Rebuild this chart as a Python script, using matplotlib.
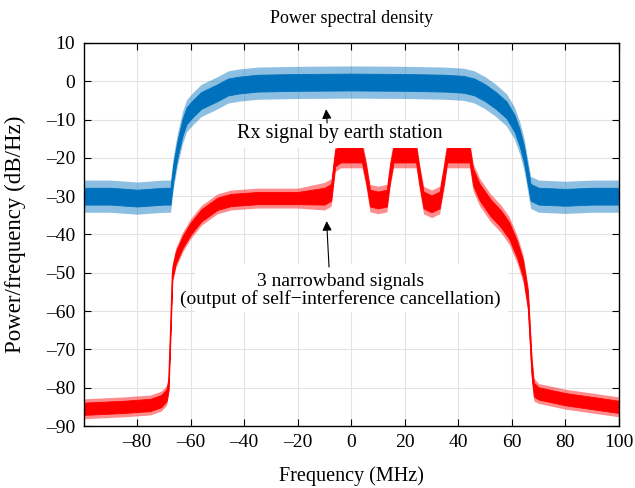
import matplotlib
matplotlib.use("Agg")
import matplotlib.pyplot as plt
from matplotlib.patches import Rectangle
from matplotlib.ticker import FuncFormatter

plt.rcParams['font.family'] = ['Liberation Serif', 'DejaVu Serif']

# ---- data ----
# Rx signal by earth station (blue): frequency (MHz), mean level (dB/Hz), core noise half-width, spike half-width
blue_f = [-100, -90, -80, -70, -67.5, -66.5, -65, -63, -61.5, -59, -56, -53, -50, -46, -42, -35,
          -20, 0, 20, 35, 42, 46, 50, 54, 58, 61, 63, 64.5, 66, 67, 70, 80, 90, 100]
blue_db = [-30, -30, -30.5, -30, -30, -24, -18, -12, -9, -7, -5, -4, -3, -1.5, -1, -0.5,
           -0.3, -0.2, -0.3, -0.5, -0.8, -1.5, -3, -5, -7.5, -11, -15, -19, -25, -29, -30, -30.3, -30, -30]
blue_core = [2.2] * len(blue_f)
blue_spike = [4.2] * len(blue_f)

# 3 narrowband signals (red)
red_f = [-100, -85, -75, -71, -69, -68.2, -67.5, -66.8, -65.5, -63, -60, -56, -50, -45, -35, -20,
         -10, -7.5, -6, -4, 0, 4, 5.5, 7, 10, 13.3, 14.5, 15.8, 20, 24.2, 25.5, 27, 30, 33, 34.5,
         35.8, 40, 44.2, 45.5, 48, 52, 56, 59, 62, 64.2, 66, 67.4, 68.2, 70, 80, 90, 100]
red_db = [-85.5, -85, -84.5, -83.5, -82, -79, -65, -50, -46, -42, -38.5, -35, -32, -31, -30.5, -30.5,
          -30, -29, -20, -19, -19, -19, -24, -30.5, -31, -30.5, -24, -19, -19, -19, -25, -31, -32, -31, -25,
          -19, -19, -19, -25, -29, -33, -36, -39, -44, -49, -57, -75, -80.5, -81.5, -83, -84, -85]
red_core = [1.6] * 16 + [2.2] * 30 + [2.2, 1.8, 1.6, 1.6, 1.6, 1.6]
red_spike = [2.6] * 16 + [3.6] * 30 + [3.6, 3.0, 2.6, 2.6, 2.6, 2.6]

x_ticks = [-80, -60, -40, -20, 0, 20, 40, 60, 80, 100]
y_ticks = [-90, -80, -70, -60, -50, -40, -30, -20, -10, 0, 10]

title = "Power spectral density"
xlabel = "Frequency (MHz)"
ylabel = "Power/frequency (dB/Hz)"
label_rx = "Rx signal by earth station"
label_nb = "3 narrowband signals\n(output of self\u2212interference cancellation)"

blue = "#0072BD"
red = "#FF0000"

fig = plt.figure(figsize=(6.35, 4.88), dpi=100)
ax = fig.add_axes([0.1315, 0.127, 0.8433, 0.785])

def band(f, m, hw):
    lo = [a - b for a, b in zip(m, hw)]
    hi = [a + b for a, b in zip(m, hw)]
    return lo, hi

for f, m, core, spike, c in [(blue_f, blue_db, blue_core, blue_spike, blue),
                             (red_f, red_db, red_core, red_spike, red)]:
    lo, hi = band(f, m, spike)
    ax.fill_between(f, lo, hi, color=c, alpha=0.45, lw=0, zorder=2)
    lo, hi = band(f, m, core)
    ax.fill_between(f, lo, hi, color=c, alpha=1.0, lw=0.6, edgecolor=c, zorder=2)
    ax.plot(f, m, color=c, lw=0.8, zorder=2)

def fmt(v, pos):
    v = int(round(v))
    return ("\u2013" + str(-v)) if v < 0 else str(v)

ax.set_xlim(-100, 100)
ax.set_ylim(-90, 10)
ax.set_xticks(x_ticks)
ax.set_yticks(y_ticks)
ax.xaxis.set_major_formatter(FuncFormatter(fmt))
ax.yaxis.set_major_formatter(FuncFormatter(fmt))
ax.tick_params(direction='in', length=5, width=0.8, top=True, right=True, labelsize=14, pad=6)
ax.grid(True, color='#e3e3e3', lw=0.8)
ax.set_axisbelow(True)
for s in ax.spines.values():
    s.set_linewidth(1.0)
    s.set_color('black')

ax.set_title(title, fontsize=13, pad=14)
ax.set_xlabel(xlabel, fontsize=14.5, labelpad=11)
ax.set_ylabel(ylabel, fontsize=16.5, labelpad=14)

# white label boxes
ax.add_patch(Rectangle((-45.5, -17.3), 96, 7.0, facecolor='white', edgecolor='none', zorder=3))
ax.add_patch(Rectangle((-58.5, -60.3), 117, 12.5, facecolor='white', edgecolor='none', zorder=3))

ax.text(-4.2, -13.7, label_rx, ha='center', va='center', fontsize=14.5, zorder=4)
ax.text(-4.0, -54.6, label_nb, ha='center', va='center', fontsize=14, zorder=4, linespacing=1.0)

ax.annotate("", xy=(-9.4, -7.3), xytext=(-9.0, -10.9),
            arrowprops=dict(arrowstyle='-|>', color='black', lw=0.8, mutation_scale=14,
                            shrinkA=0, shrinkB=0), zorder=5)
ax.annotate("", xy=(-9.2, -36.5), xytext=(-8.3, -48.5),
            arrowprops=dict(arrowstyle='-|>', color='black', lw=0.8, mutation_scale=14,
                            shrinkA=0, shrinkB=0), zorder=5)

fig.savefig("out.png", dpi=100)
